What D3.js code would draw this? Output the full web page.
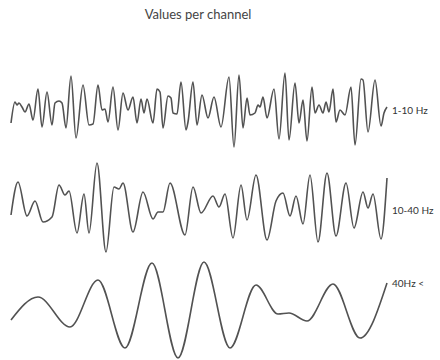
<!DOCTYPE html>
<html>
<head>
<meta charset="utf-8">
<script src="https://cdn.jsdelivr.net/npm/d3@7"></script>
<style>
  body { margin: 0; background: #fff; }
  svg { display: block; }
</style>
</head>
<body>
<div id="chart"></div>
<script>
const title = "Values per channel";
const channels = ["1-10 Hz", "10-40 Hz", "40Hz <"];

// time (arbitrary units) and amplitude samples (peaks, troughs, shoulders)
const t1 = [0,4,6,8,11,14,18,22,27,31,36,41,44,48,51,55,60,65,72,78,82,87,91,94,97,102,107,112,117,122,126,130,133,136,142,146,149,152,157,160,162,166,170,175,177,182,186,191,197,203,210,218,223,228,232,236,239,244,247,249,252,256,263,268,274,278,284,288,292,296,301,304,308,312,315,318,322,325,329,334,340,344,350,352,357,364,370,373,376];
const v1 = [-13,8,5,7,3,-2,6,-10,21,-17,18,-15,7,9,7,-18,34,-28,25,-15,-14,25,0,1,-12,23,-20,17,0,13,-13,11,-3,11,-13,21,18,-18,14,12,-3,-4,28,-20,-12,28,-15,15,-8,13,-17,33,-37,35,-18,12,-5,-3,5,3,13,-8,21,-29,37,-30,27,-13,10,-31,23,-3,5,-3,8,-2,21,-12,0,-5,23,-35,31,30,-22,30,-16,-3,3];

const t2 = [0,7,16,24,32,41,48,54,58,66,73,78,86,95,103,108,112,122,132,142,147,152,159,174,182,190,202,208,214,222,230,236,245,256,265,272,279,285,292,299,307,316,325,335,343,352,357,362,370,376];
const v2 = [-5,28,-6,9,-12,-7,25,15,19,-23,16,-23,47,-42,23,21,27,-22,18,-9,-2,-2,27,-25,23,-3,14,3,16,-28,25,-10,35,-30,9,17,-6,14,-14,35,-32,37,-26,27,-18,18,2,16,-29,32];

const t3 = [0,27,59,87,114,141,167,193,219,245,267,278,296,322,349,376];
const v3 = [-10,13,-17,30,-38,47,-48,48,-38,25,-4,-3,-11,26,-28,27];

const series = [
  {name: channels[0], t: t1, v: v1},
  {name: channels[1], t: t2, v: v2},
  {name: channels[2], t: t3, v: v3}
];

const width = 440;
const height = 360;

const svg = d3.select("#chart")
  .append("svg")
  .attr("width", width)
  .attr("height", height);

const x = d3.scaleLinear()
  .domain([0, 376])
  .range([11, 387]);

svg.append("text")
  .attr("x", 198)
  .attr("y", 19)
  .attr("text-anchor", "middle")
  .style("font-family", "Lato, 'Open Sans', sans-serif")
  .style("font-size", "13px")
  .style("fill", "#444")
  .text(title);

// baseline of each channel row
const centers = [110, 210, 310];

series.forEach((s, i) => {
  const c = centers[i];
  const y = d3.scaleLinear()
    .domain([-50, 50])
    .range([c + 50, c - 50]);

  const line = d3.line()
    .x(d => x(d[0]))
    .y(d => y(d[1]))
    .curve(d3.curveMonotoneX);

  svg.append("path")
    .datum(d3.zip(s.t, s.v))
    .attr("d", line)
    .attr("fill", "none")
    .attr("stroke", "#525252")
    .attr("stroke-width", 1.6)
    .attr("stroke-linejoin", "round");

  const last = s.t.length - 1;
  const labelY = i === 2 ? y(s.v[last]) : c;
  svg.append("text")
    .attr("x", x(s.t[last]) + 5)
    .attr("y", labelY + 1)
    .attr("dominant-baseline", "middle")
    .style("font-family", "Lato, 'Open Sans', sans-serif")
    .style("font-size", "10px")
    .style("fill", "#333")
    .text(s.name);
});
</script>
</body>
</html>
